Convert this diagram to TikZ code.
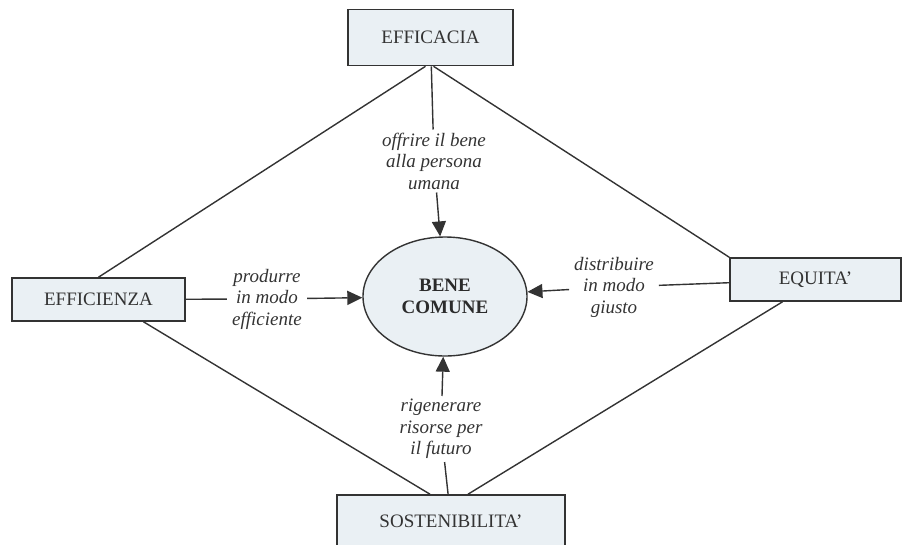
\documentclass[tikz,border=0pt]{standalone}
\usepackage{fontspec}
\setmainfont{Liberation Serif}
\usetikzlibrary{arrows.meta}
\usetikzlibrary{positioning}
\usetikzlibrary{shapes.geometric}
\definecolor{boxfill}{HTML}{EAF0F4}
\definecolor{ink}{HTML}{333333}

\begin{document}
\begin{tikzpicture}[x=1pt, y=-1pt,
  pillar/.style={draw=ink, line width=1.6pt, fill=boxfill, minimum height=43pt,
    inner sep=0pt, font=\fontsize{19}{21.5}\selectfont, text=ink},
  goal/.style={ellipse, draw=ink, line width=1.4pt, fill=boxfill,
    minimum width=164pt, minimum height=119pt, inner sep=0pt, align=center,
    font=\fontsize{19}{21.5}\selectfont\bfseries, text=ink!85!black},
  verb/.style={align=center, inner xsep=5pt, inner ysep=3pt,
    font=\fontsize{19}{21.5}\selectfont\itshape, text=ink},
  link/.style={ink, line width=1.4pt},
  push/.style={ink, line width=1.4pt, -{Triangle[length=15pt, width=14pt]}}]
  \useasboundingbox (0,0) rectangle (907,544);

  % the four pillars and the common good
  \node[pillar, minimum width=165pt, minimum height=56pt] (efficacia) at (430.5,37.5) {EFFICACIA};
  \node[pillar, minimum width=173pt] (efficienza) at (98.5,299.5) {EFFICIENZA};
  \node[pillar, minimum width=171pt] (equita) at (815.5,279.5) {EQUITA'};
  \node[pillar, minimum width=228pt, minimum height=52pt] (sost) at (451,521) {SOSTENIBILITA'};
  \node[goal] (bene) at (445,296.5) {BENE\\COMUNE};

  % outer diamond
  \draw[link] ([xshift=-5pt]efficacia.south) -- (efficienza.north);
  \draw[link] ([xshift=3pt]efficacia.south) -- (equita.north west);
  \draw[link] ([xshift=45pt]efficienza.south) -- ([xshift=-21pt]sost.north);
  \draw[link] ([xshift=-33pt]equita.south) -- ([xshift=17pt]sost.north);

  % labels on the spokes
  \node[verb] (offrire) at (434,161) {offrire il bene\\alla persona\\umana};
  \node[verb] (produrre) at (267,299) {produrre\\in modo\\efficiente};
  \node[verb] (distribuire) at (614,287) {distribuire\\in modo\\giusto};
  \node[verb] (rigenerare) at (441,429) {rigenerare\\risorse per\\il futuro};

  % spokes
  \draw[link] (efficacia) -- (offrire);
  \draw[push] (offrire) -- (bene);
  \draw[link] (efficienza) -- (produrre);
  \draw[push] (produrre) -- (bene);
  \draw[link] (equita) -- (distribuire);
  \draw[push] (distribuire) -- (bene);
  \draw[link] (sost) -- (rigenerare);
  \draw[push] (rigenerare) -- (bene);
\end{tikzpicture}
\end{document}
